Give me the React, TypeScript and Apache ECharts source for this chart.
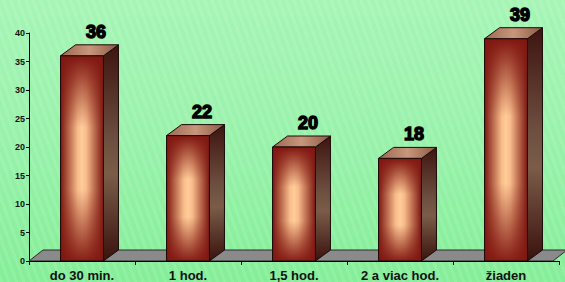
import React, { useEffect, useRef } from "react";
import * as echarts from "echarts";

const categories = ["do 30 min.", "1 hod.", "1,5 hod.", "2 a viac hod.", "žiaden"];
const values = [36, 22, 20, 18, 39];
const yTicks = { min: 0, max: 40, interval: 5 };

const DX = 15;
const DY = 11;

export default function App() {
  const ref = useRef<HTMLDivElement>(null);
  useEffect(() => {
    if (!ref.current) return;
    const chart = echarts.init(ref.current, undefined, { renderer: "svg" });
    const barData = values.map((v, i) => [i, v]);
    chart.setOption({
      animation: false,
      backgroundColor: "transparent",
      grid: { left: 29, right: 6, top: 33, bottom: 21 },
      xAxis: {
        type: "category",
        data: categories,
        axisLine: { show: true, lineStyle: { color: "#000", width: 1 } },
        axisTick: { show: true, length: 4, lineStyle: { color: "#000" } },
        axisLabel: {
          color: "#111",
          fontWeight: "bold",
          fontSize: 13,
          fontFamily: "Liberation Sans, Arial, sans-serif",
          margin: 8,
        },
        z: 10,
      },
      yAxis: {
        type: "value",
        min: yTicks.min,
        max: yTicks.max,
        interval: yTicks.interval,
        axisLine: { show: true, lineStyle: { color: "#000", width: 1 } },
        axisTick: { show: true, length: 3, lineStyle: { color: "#000" } },
        axisLabel: {
          color: "#111",
          fontWeight: "bold",
          fontSize: 9,
          fontFamily: "Liberation Sans, Arial, sans-serif",
          margin: 4,
        },
        splitLine: { show: false },
      },
      series: [
        {
          type: "custom",
          name: "floor",
          silent: true,
          z: 1,
          data: [[0, 0]],
          renderItem: (params: any, api: any) => {
            const cs = params.coordSys;
            const by = cs.y + cs.height;
            const lx = cs.x;
            const rx = cs.x + cs.width;
            return {
              type: "polygon",
              shape: {
                points: [
                  [lx, by],
                  [lx + 14, by - DY],
                  [rx + 8, by - DY],
                  [rx - 6, by],
                ],
              },
              style: { fill: "#8a8a8a", stroke: "#2a2a2a", lineWidth: 1 },
            };
          },
        },
        {
          type: "custom",
          name: "bars",
          z: 5,
          data: barData,
          renderItem: (params: any, api: any) => {
            const idx = api.value(0);
            const val = api.value(1);
            const top = api.coord([idx, val]);
            const base = api.coord([idx, 0]);
            const band = api.size([1, 0])[0];
            const w = band * 0.405;
            const x0 = top[0] - w / 2;
            const x1 = top[0] + w / 2;
            const ty = top[1];
            const by = base[1];
            const h = by - ty;
            return {
              type: "group",
              children: [
                {
                  type: "polygon",
                  shape: {
                    points: [
                      [x1, ty],
                      [x1 + DX, ty - DY],
                      [x1 + DX, by - DY],
                      [x1, by],
                    ],
                  },
                  style: {
                    fill: new echarts.graphic.LinearGradient(0, 0, 0, 1, [
                      { offset: 0, color: "#3e1410" },
                      { offset: 0.45, color: "#6e5040" },
                      { offset: 0.6, color: "#7a5c48" },
                      { offset: 1, color: "#3a120e" },
                    ]),
                    stroke: "#1a0a08",
                    lineWidth: 1,
                  },
                },
                {
                  type: "polygon",
                  shape: {
                    points: [
                      [x0, ty],
                      [x0 + DX, ty - DY],
                      [x1 + DX, ty - DY],
                      [x1, ty],
                    ],
                  },
                  style: {
                    fill: new echarts.graphic.LinearGradient(0, 0, 1, 0, [
                      { offset: 0, color: "#9a6a52" },
                      { offset: 0.5, color: "#c8967a" },
                      { offset: 1, color: "#8a5a46" },
                    ]),
                    stroke: "#1a0a08",
                    lineWidth: 1,
                  },
                },
                {
                  type: "rect",
                  shape: { x: x0, y: ty, width: w, height: h },
                  style: {
                    fill: new echarts.graphic.LinearGradient(0, 0, 1, 0, [
                      { offset: 0, color: "#7c1812" },
                      { offset: 0.4, color: "#f8bc8a" },
                      { offset: 0.5, color: "#ffcc9a" },
                      { offset: 0.6, color: "#f8bc8a" },
                      { offset: 1, color: "#7c1812" },
                    ]),
                  },
                },
                {
                  type: "rect",
                  shape: { x: x0, y: ty, width: w, height: h },
                  style: {
                    fill: new echarts.graphic.LinearGradient(0, 0, 0, 1, [
                      { offset: 0, color: "rgba(128,22,16,1)" },
                      { offset: 0.35, color: "rgba(128,22,16,0)" },
                      { offset: 0.65, color: "rgba(128,22,16,0)" },
                      { offset: 1, color: "rgba(128,22,16,0.95)" },
                    ]),
                    stroke: "#1a0a08",
                    lineWidth: 1,
                  },
                },
                {
                  type: "text",
                  x: top[0] + DX - 1,
                  y: ty - DY - 13,
                  style: {
                    text: String(val),
                    fill: "#000",
                    stroke: "#000",
                    lineWidth: 1.4,
                    fontSize: 18,
                    fontWeight: 900,
                    fontFamily: "Liberation Sans, Arial, sans-serif",
                    align: "center",
                    verticalAlign: "middle",
                    textShadowColor: "rgba(60,60,60,0.6)",
                    textShadowOffsetX: 1,
                    textShadowOffsetY: 1,
                    textShadowBlur: 0,
                  },
                },
              ],
            };
          },
        },
      ],
    });
    return () => chart.dispose();
  }, []);
  return (
    <div
      style={{
        position: "fixed",
        left: 0,
        top: 0,
        width: 565,
        height: 282,
        background:
          "repeating-linear-gradient(70deg, rgba(255,255,255,0.10) 0px, rgba(255,255,255,0.10) 3px, rgba(0,0,0,0) 3px, rgba(0,0,0,0) 7px), linear-gradient(180deg, #a6f5b6 0%, #98f2aa 50%, #84ee98 100%)",
      }}
    >
      <div ref={ref} style={{ width: 565, height: 282 }} />
    </div>
  );
}
